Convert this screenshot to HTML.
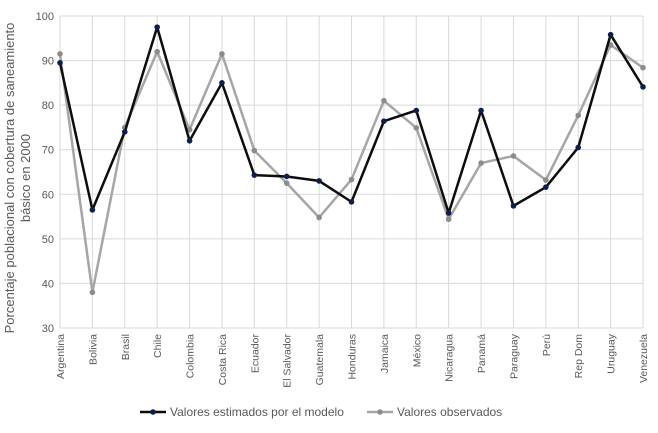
<!DOCTYPE html>
<html><head><meta charset="utf-8"><style>
body{margin:0;background:#fff;font-family:"Liberation Sans",sans-serif}
svg text{font-family:"Liberation Sans",sans-serif;fill:#595959}
</style></head><body>
<svg id="c" width="658" height="428"></svg>
<script>
const categories=["Argentina","Bolivia","Brasil","Chile","Colombia","Costa Rica","Ecuador","El Salvador","Guatemala","Honduras","Jamaica","México","Nicaragua","Panamá","Paraguay","Perú","Rep Dom","Uruguay","Venezuela"];
const estimated=[89.5,56.5,74,97.5,72,85,64.3,64,63,58.3,76.4,78.8,55.8,78.8,57.4,61.6,70.5,95.8,84.1];
const observed=[91.5,38,75,92,74.5,91.5,69.8,62.5,54.8,63.3,81,74.9,54.4,67,68.6,63.2,77.7,93.5,88.4];
const yTicks=[30,40,50,60,70,80,90,100];
const NS="http://www.w3.org/2000/svg",svg=document.getElementById('c');
const x0=60,x1=643,y0=328,y1=16;
const X=i=>x0+i*(x1-x0)/(categories.length-1);
const Y=v=>y0-(v-30)/70*(y0-y1);
function mk(t,a,p){const e=document.createElementNS(NS,t);for(const k in a)e.setAttribute(k,a[k]);(p||svg).appendChild(e);return e;}
yTicks.forEach(v=>{
const l=mk('line',{x1:x0,x2:x1,y1:Y(v),y2:Y(v),stroke:'#d9d9d9','stroke-width':1});


const t=mk('text',{x:x0-6,y:Y(v)+4,'text-anchor':'end','font-size':11});t.textContent=v;


});
categories.forEach((c,i)=>{
const l=mk('line',{x1:X(i),x2:X(i),y1:y1,y2:y0,stroke:'#d9d9d9','stroke-width':1});


const t=mk('text',{transform:`translate(${X(i)+4},334) rotate(-90)`,'text-anchor':'end','font-size':10.5});t.textContent=c;


});
function series(vals,color,name,mc){
const p=mk('polyline',{points:vals.map((v,i)=>X(i)+','+Y(v)).join(' '),fill:'none',stroke:color,'stroke-width':2.5,'stroke-linejoin':'round'});


vals.forEach((v,i)=>{const d=mk('circle',{cx:X(i),cy:Y(v),r:2.8,fill:mc});

});
}
series(observed,'#a6a6a6','observed','#8c8c8c');
series(estimated,'#0d0d0d','estimated','#0a1f4f');
const yt=mk('text',{transform:'translate(14,178) rotate(-90)','text-anchor':'middle','font-size':13});
yt.textContent='Porcentaje poblacional con cobertura de saneamiento';


const yt2=mk('text',{transform:'translate(30,178) rotate(-90)','text-anchor':'middle','font-size':13});
yt2.textContent='básico en 2000';


const lg=mk('g',{});


[[140,'#0d0d0d','#0a1f4f','Valores estimados por el modelo'],[367,'#a6a6a6','#8c8c8c','Valores observados']].forEach(([lx,c,mc,lab])=>{
const g=mk('g',{},lg);


mk('line',{x1:lx,x2:lx+26,y1:412,y2:412,stroke:c,'stroke-width':2.5},g);
mk('circle',{cx:lx+13,cy:412,r:2.8,fill:mc},g);
const t=mk('text',{x:lx+30,y:416,'font-size':12},g);t.textContent=lab;
});
</script>
</body></html>
